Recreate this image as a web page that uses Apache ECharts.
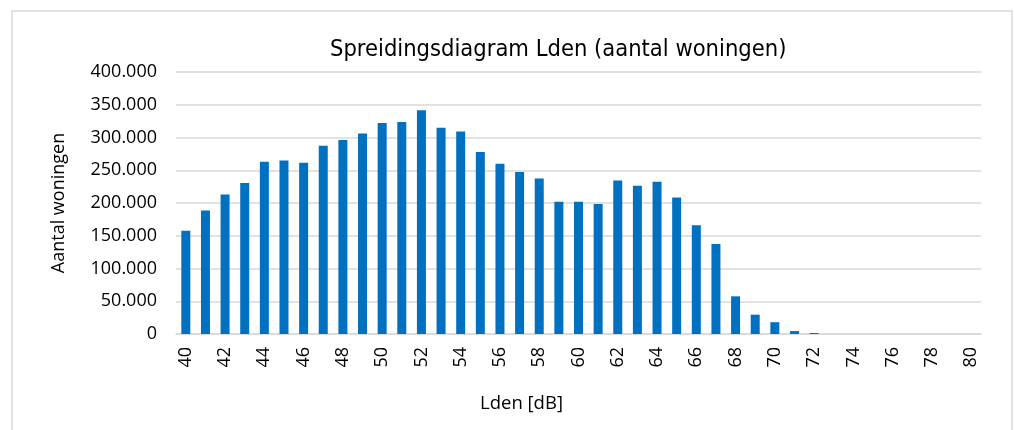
<!DOCTYPE html>
<html lang="nl">
<head>
    <meta charset="UTF-8">
    <title>Spreidingsdiagram Lden</title>
    <script src="https://cdn.jsdelivr.net/npm/echarts@6/dist/echarts.min.js"></script>
    <style>
        html, body { margin: 0; padding: 0; background: #fff; }
        #chart { width: 1014px; height: 430px; }
    </style>
</head>
<body>
<div id="chart"></div>
<script type="text/javascript">
    // Lden klassen (dB)
    var categories = ['40','41','42','43','44','45','46','47','48','49','50','51','52','53','54','55','56','57','58','59','60',
                      '61','62','63','64','65','66','67','68','69','70','71','72','73','74','75','76','77','78','79','80'];
    // aantal woningen per klasse
    var woningen = [157500, 188500, 213000, 230500, 263000, 265000, 261500, 287500, 296000, 306000, 322000,
                    323500, 341500, 315000, 309000, 278000, 260000, 247500, 237500, 202000, 202000,
                    198500, 234500, 226500, 232500, 208500, 166000, 137500, 57500, 29500, 18000,
                    4500, 1500, 0, 0, 0, 0, 0, 0, 0, 0];
    var yTicks = [0, 50000, 100000, 150000, 200000, 250000, 300000, 350000, 400000];

    var labelFont = '"Open Sans", "DejaVu Sans", sans-serif';

    function nlFormat(v) {
        return String(v).replace(/\B(?=(\d{3})+(?!\d))/g, '.');
    }

    var myChart = echarts.init(document.getElementById('chart'));

    myChart.setOption({
        backgroundColor: '#ffffff',
        animation: false,
        title: {
            text: 'Spreidingsdiagram Lden (aantal woningen)',
            left: 325,
            top: 33,
            textStyle: {
                fontFamily: '"Liberation Sans Narrow", "DejaVu Sans Condensed", sans-serif',
                fontWeight: 'normal',
                fontSize: 23.5,
                color: '#000'
            }
        },
        graphic: [{
            type: 'rect',
            shape: { x: 12, y: 11, width: 1000, height: 430 },
            style: { fill: 'none', stroke: '#d9d9d9', lineWidth: 1.5 },
            silent: true
        }],
        grid: {
            left: 176,
            right: 33,
            top: 72,
            bottom: 96
        },
        xAxis: {
            type: 'category',
            data: categories,
            name: 'Lden [dB]',
            nameLocation: 'middle',
            nameGap: 60,
            nameTextStyle: { fontFamily: labelFont, fontSize: 18.5, color: '#000', padding: [0, 114, 0, 0] },
            axisLine: { lineStyle: { color: '#d9d9d9', width: 1.5 } },
            axisTick: { show: false },
            axisLabel: {
                interval: 1,
                rotate: 90,
                margin: 13,
                fontFamily: labelFont,
                fontSize: 18,
                color: '#000'
            }
        },
        yAxis: {
            type: 'value',
            min: yTicks[0],
            max: yTicks[yTicks.length - 1],
            interval: yTicks[1] - yTicks[0],
            name: 'Aantal woningen',
            nameLocation: 'middle',
            nameRotate: 90,
            nameGap: 108,
            nameTextStyle: { fontFamily: labelFont, fontSize: 18, color: '#000' },
            axisLine: { show: false },
            axisTick: { show: false },
            splitLine: { lineStyle: { color: '#d9d9d9', width: 1.5 } },
            axisLabel: {
                margin: 19,
                fontFamily: labelFont,
                fontSize: 18,
                color: '#000',
                formatter: nlFormat
            }
        },
        series: [{
            name: 'Aantal woningen',
            type: 'bar',
            data: woningen,
            barWidth: 9,
            itemStyle: { color: '#0070c0' }
        }]
    });
</script>
</body>
</html>
